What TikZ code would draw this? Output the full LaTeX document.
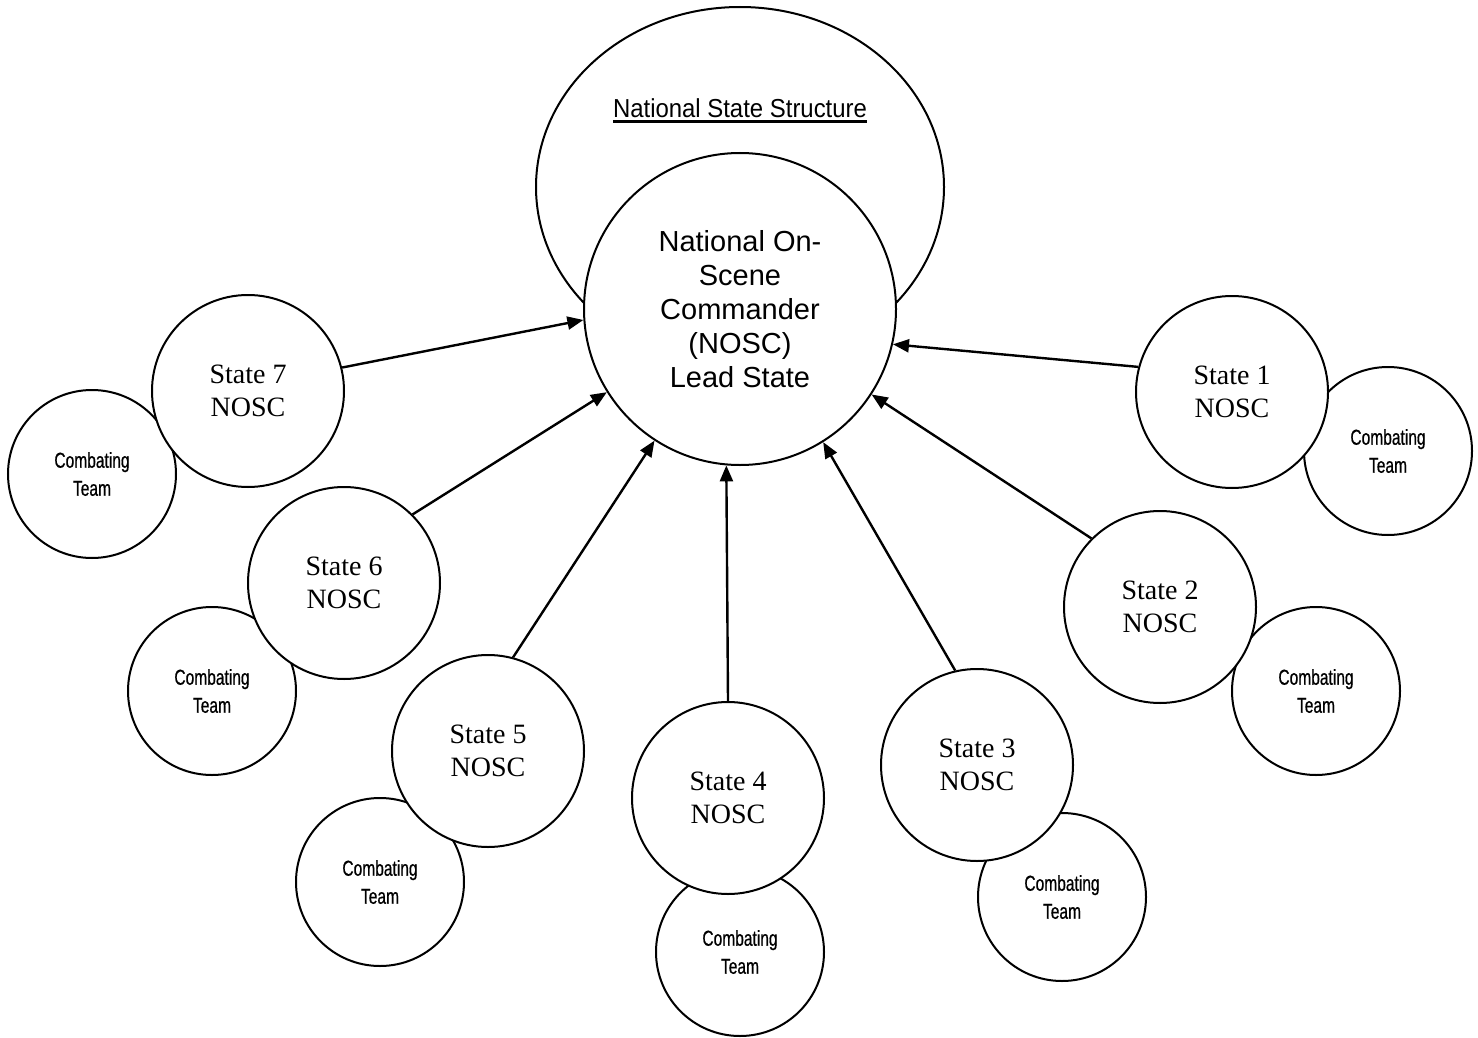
\documentclass[tikz,border=0pt]{standalone}
\usepackage{fontspec}
\setmainfont{Liberation Serif}
\newfontfamily\arialf{Liberation Sans}
\newfontfamily\narrowf[FakeStretch=0.72,FakeBold=0.6]{Liberation Sans}
\newfontfamily\titlef[FakeStretch=0.92]{Liberation Sans}
\usetikzlibrary{arrows.meta,shapes.geometric}
\newcommand{\thickul}[1]{\setbox0\hbox{#1}\rlap{\rule[-2.6pt]{\wd0}{1.3pt}}\box0}
\begin{document}
\begin{tikzpicture}[x=0.5pt,y=-0.5pt,
  statec/.style={circle,draw,line width=1pt,fill=white,minimum size=96pt,inner sep=0pt,align=center,font=\fontsize{14}{16.5}\selectfont},
  teamc/.style={circle,draw,line width=1pt,fill=white,minimum size=84pt,inner sep=0pt,align=center,font=\narrowf\fontsize{10.8}{14}\selectfont},
  link/.style={-{Triangle[length=8pt,width=6.5pt]},line width=1.2pt}]
\useasboundingbox (0,0) rectangle (1478,1038);
\node[ellipse,draw,line width=1pt,minimum width=204pt,minimum height=180pt,inner sep=0pt] (nss) at (740,187) {};
\node[font=\titlef\fontsize{13}{15}\selectfont,inner sep=0pt] (title) at (740,111) {\thickul{National State Structure}};
\node[circle,draw,line width=1pt,fill=white,minimum size=156pt,inner sep=0pt,align=center,font=\arialf\fontsize{14.5}{17}\selectfont] (nosc) at (740,309) {National On-\\Scene\\Commander\\(NOSC)\\Lead State};
\node[teamc] (t1) at (1388,451) {Combating\\Team};
\node[teamc] (t2) at (1316,691) {Combating\\Team};
\node[teamc] (t3) at (1062,897) {Combating\\Team};
\node[teamc] (t4) at (740,952) {Combating\\Team};
\node[teamc] (t5) at (380,882) {Combating\\Team};
\node[teamc] (t6) at (212,691) {Combating\\Team};
\node[teamc] (t7) at (92,474) {Combating\\Team};
\node[statec] (s1) at (1232,392) {State 1\\NOSC};
\node[statec] (s2) at (1160,607) {State 2\\NOSC};
\node[statec] (s3) at (977,765) {State 3\\NOSC};
\node[statec] (s4) at (728,798) {State 4\\NOSC};
\node[statec] (s5) at (488,751) {State 5\\NOSC};
\node[statec] (s6) at (344,583) {State 6\\NOSC};
\node[statec] (s7) at (248,391) {State 7\\NOSC};
\draw[link] (s7.14) -- (nosc.184.7);
\draw[link] (s6.45) -- (nosc.212.9);
\draw[link] (s5.75.7) -- (nosc.237.9);
\draw[link] (s4.90) -- (nosc.265.7);
\draw[link] (s3.103.9) -- (nosc.302.4);
\draw[link] (s2.135) -- (nosc.327.1);
\draw[link] (s1.165.4) -- (nosc.347.1);
\end{tikzpicture}
\end{document}
